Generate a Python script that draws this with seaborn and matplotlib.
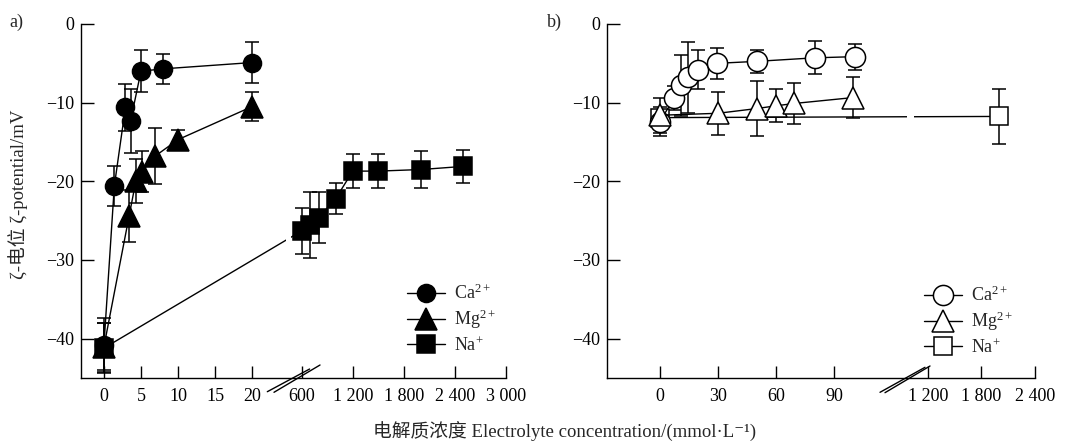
import numpy as np
import matplotlib
matplotlib.use("Agg")
import matplotlib.pyplot as plt
import seaborn as sns
from matplotlib.patches import Rectangle
from matplotlib.lines import Line2D

# ---------------- data ----------------
# panel a)
ca_a_x = [0, 1.4, 2.9, 3.6, 5, 8, 20]
ca_a_y = [-40.8, -20.6, -10.6, -12.3, -6.0, -5.7, -4.9]
ca_a_err = [3.4, 2.5, 3.0, 4.1, 2.7, 1.9, 2.6]
mg_a_x = [0, 3.4, 4.3, 5.1, 6.9, 10, 20]
mg_a_y = [-41.0, -24.4, -20.0, -18.8, -16.8, -14.7, -10.5]
mg_a_err = [3.0, 3.3, 2.8, 2.6, 3.6, 1.2, 1.8]
na_a_x = [0, 600, 700, 800, 1000, 1200, 1500, 2000, 2500]
na_a_y = [-41.2, -26.3, -25.6, -24.6, -22.2, -18.7, -18.7, -18.5, -18.1]
na_a_err = [3.2, 2.9, 4.2, 3.2, 2.0, 2.2, 2.2, 2.4, 2.1]
# panel b)
ca_b_x = [0, 7.3, 10.8, 14.3, 19.5, 29.5, 50, 80, 101]
ca_b_y = [-12.4, -9.4, -7.8, -6.8, -5.8, -5.0, -4.75, -4.3, -4.15]
ca_b_err = [1.9, 1.5, 3.9, 4.5, 2.5, 2.0, 1.45, 2.1, 1.65]
mg_b_x = [0, 30, 50, 60, 69.5, 100]
mg_b_y = [-11.6, -11.35, -10.75, -10.4, -10.1, -9.35]
mg_b_err = [2.2, 2.75, 3.55, 2.1, 2.6, 2.65]
na_b_x = [0, 2000]
na_b_y = [-11.9, -11.75]
na_b_err = [1.0, 3.45]

labels = ["Ca$^{2+}$", "Mg$^{2+}$", "Na$^{+}$"]
a_ticks = [0, 5, 10, 15, 20, 600, 1200, 1800, 2400, 3000]
a_ticklabels = ["0", "5", "10", "15", "20", "600", "1 200", "1 800", "2 400", "3 000"]
b_ticks = [0, 30, 60, 90, 1200, 1800, 2400]
b_ticklabels = ["0", "30", "60", "90", "1 200", "1 800", "2 400"]
y_ticks = [0, -10, -20, -30, -40]

# ---------------- style ----------------
sns.set_theme(style="ticks")
FAM = ["Liberation Serif", "Noto Sans CJK SC", "DejaVu Serif", "DejaVu Sans"]
plt.rcParams["font.family"] = FAM
plt.rcParams["mathtext.fontset"] = "custom"
plt.rcParams["mathtext.rm"] = "Liberation Serif"
plt.rcParams["mathtext.it"] = "Liberation Serif:italic"
plt.rcParams["mathtext.bf"] = "Liberation Serif:bold"
FS = 13

fig = plt.figure(figsize=(10.69, 4.43), dpi=100)
W, H = 1069, 443
axA = fig.add_axes([81 / W, 1 - 378 / H, (506 - 81) / W, (378 - 24) / H])
axB = fig.add_axes([607 / W, 1 - 378 / H, (1035 - 607) / W, (378 - 24) / H])


def make_scale(vk, uk):
    vk = np.asarray(vk, float)
    uk = np.asarray(uk, float)

    def fwd(v):
        return np.interp(v, vk, uk)

    def inv(u):
        return np.interp(u, uk, vk)

    return fwd, inv


# broken axes via piecewise-linear scales
kA = (54.3 - 26.7) / 2400
axA.set_xscale("function", functions=make_scale(
    [-1000, 20, 600, 3000, 100000], [-1000, 20, 26.7, 54.3, 54.3 + 97000 * kA]))
kB = (194.0 - 138.6) / 1200
axB.set_xscale("function", functions=make_scale(
    [-1000, 110, 1200, 2400, 100000], [-1000, 110, 138.6, 194.0, 194.0 + 97600 * kB]))


def series(ax, x, y, err, marker, ms, face, label, z):
    ax.errorbar(x, y, yerr=err, fmt="none", ecolor="black", elinewidth=1.1,
                capsize=5, capthick=1.1, zorder=z - 0.5)
    sns.lineplot(x=x, y=y, ax=ax, sort=False, color="black", linewidth=1.0,
                 marker=marker, markersize=ms, markerfacecolor=face,
                 markeredgecolor="black", markeredgewidth=1.1, label=label,
                 zorder=z, errorbar=None)


series(axA, na_a_x, na_a_y, na_a_err, "s", 13, "black", labels[2], 3)
series(axA, ca_a_x, ca_a_y, ca_a_err, "o", 13, "black", labels[0], 3.2)
series(axA, mg_a_x, mg_a_y, mg_a_err, "^", 16, "black", labels[1], 3.4)

series(axB, na_b_x, na_b_y, na_b_err, "s", 12.5, "white", labels[2], 3)
series(axB, ca_b_x, ca_b_y, ca_b_err, "o", 14.5, "white", labels[0], 3.2)
series(axB, mg_b_x, mg_b_y, mg_b_err, "^", 16, "white", labels[1], 3.4)

for ax, ticks, tl, xl in [(axA, a_ticks, a_ticklabels, (-3.1, 3000)),
                          (axB, b_ticks, b_ticklabels, (-27.4, 2400))]:
    ax.set_xlim(*xl)
    ax.set_ylim(-45, 0)
    ax.set_xticks(ticks)
    ax.set_xticklabels(tl)
    ax.set_yticks(y_ticks)
    ax.minorticks_off()
    ax.set_xlabel("")
    ax.set_ylabel("")
    for s in ["top", "right"]:
        ax.spines[s].set_visible(False)
    for s in ["left", "bottom"]:
        ax.spines[s].set_linewidth(1.0)
        ax.spines[s].set_color("black")
    ax.tick_params(direction="in", length=9, width=1.0, color="black",
                   labelsize=FS, labelcolor="black")
    ax.tick_params(axis="y", pad=5)
    ax.tick_params(axis="x", pad=7)
    ax.grid(False)

# break marks (decoration, in axes fraction)
brk = dict(color="black", linewidth=1.0, clip_on=False, zorder=6)
axA.add_line(Line2D([0.4384, 0.5379], [-0.0387, 0.0254], transform=axA.transAxes, **brk))
axA.add_line(Line2D([0.4541, 0.5624], [-0.0404, 0.0367], transform=axA.transAxes, **brk))
axB.add_line(Line2D([0.6379, 0.7430], [-0.0404, 0.0302], transform=axB.transAxes, **brk))
axB.add_line(Line2D([0.6495, 0.7547], [-0.0415, 0.0339], transform=axB.transAxes, **brk))
# small gaps in connecting lines at the break
axA.add_patch(Rectangle((0.4824, 0.373), 0.012, 0.034, transform=axA.transAxes,
                        facecolor="white", edgecolor="none", zorder=5))
axB.add_patch(Rectangle((0.7009, 0.72), 0.0164, 0.03, transform=axB.transAxes,
                        facecolor="white", edgecolor="none", zorder=5))

leg_kw = dict(loc="upper left", bbox_transform=fig.transFigure, frameon=False,
              fontsize=FS, handlelength=2.1, handletextpad=0.5, labelspacing=0.25,
              borderpad=0, borderaxespad=0)
for ax, anchor in [(axA, (407 / W, 1 - 284 / H)), (axB, (924 / W, 1 - 286 / H))]:
    hs, ls = ax.get_legend_handles_labels()
    order = [ls.index(l) for l in labels]
    ax.legend([hs[i] for i in order], [ls[i] for i in order],
              bbox_to_anchor=anchor, **leg_kw)

fig.text(16 / W, 1 - 22 / H, "a)", fontsize=FS, ha="center", va="center")
fig.text(554 / W, 1 - 22 / H, "b)", fontsize=FS, ha="center", va="center")
fig.text(18 / W, 1 - 194 / H, "ζ-电位 ζ-potential/mV", fontsize=13.5, rotation=90,
         ha="center", va="center")
fig.text(565 / W, 1 - 432 / H, "电解质浓度 Electrolyte concentration/(mmol·L⁻¹)",
         fontsize=13.5, ha="center", va="center", family=FAM)

fig.savefig("out.png", dpi=100)
